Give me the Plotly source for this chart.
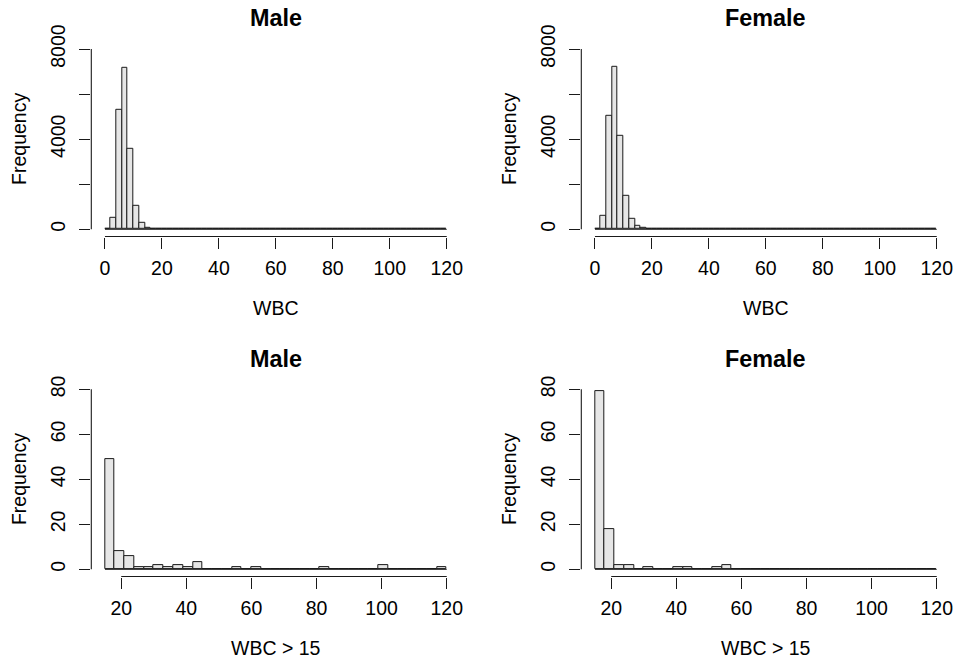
import plotly.graph_objects as go

# ---------------- data ----------------
top_edges = list(range(0, 122, 2))          # WBC bins (width 2)
male_all = [0, 530, 5290, 7160, 3590, 1060, 310, 80, 32, 12,
            7, 4, 1, 1, 1, 2, 1, 1, 2, 1,
            1, 3, 0, 0, 0, 0, 0, 1, 0, 0,
            1, 0, 0, 0, 0, 0, 0, 0, 0, 0,
            0, 1, 0, 0, 0, 0, 0, 0, 0, 0,
            2, 0, 0, 0, 0, 0, 0, 0, 0, 1]
female_all = [0, 580, 5040, 7210, 4140, 1480, 470, 135, 45, 14,
              4, 2, 2, 0, 0, 1, 0, 0, 0, 0,
              1, 1, 0, 0, 0, 0, 1, 2, 0, 0,
              0, 0, 0, 0, 0, 0, 0, 0, 0, 0,
              0, 0, 0, 0, 0, 0, 0, 0, 0, 0,
              0, 0, 0, 0, 0, 0, 0, 0, 0, 0]

low_edges = list(range(15, 123, 3))         # WBC > 15 bins (width 3)
male_gt15 = [49, 8, 6, 1, 1, 2, 1, 2, 1, 3,
             0, 0, 0, 1, 0, 1, 0, 0, 0, 0,
             0, 0, 1, 0, 0, 0, 0, 0, 2, 0,
             0, 0, 0, 0, 1]
female_gt15 = [79, 18, 2, 2, 0, 1, 0, 0, 1, 1,
               0, 0, 1, 2, 0, 0, 0, 0, 0, 0,
               0, 0, 0, 0, 0, 0, 0, 0, 0, 0,
               0, 0, 0, 0, 0]

x_ticks_top = [0, 20, 40, 60, 80, 100, 120]
y_ticks_top = [0, 2000, 4000, 6000, 8000]
y_text_top = ["0", "", "4000", "", "8000"]
x_ticks_low = [20, 40, 60, 80, 100, 120]
y_ticks_low = [0, 20, 40, 60, 80]

panels = [
    dict(title="Male", xlab="WBC", edges=top_edges, counts=male_all,
         xt=x_ticks_top, yt=y_ticks_top, ytt=y_text_top, col=0, row=0),
    dict(title="Female", xlab="WBC", edges=top_edges, counts=female_all,
         xt=x_ticks_top, yt=y_ticks_top, ytt=y_text_top, col=1, row=0),
    dict(title="Male", xlab="WBC > 15", edges=low_edges, counts=male_gt15,
         xt=x_ticks_low, yt=y_ticks_low, ytt=[str(v) for v in y_ticks_low], col=0, row=1),
    dict(title="Female", xlab="WBC > 15", edges=low_edges, counts=female_gt15,
         xt=x_ticks_low, yt=y_ticks_low, ytt=[str(v) for v in y_ticks_low], col=1, row=1),
]

# ---------------- layout geometry (pixels) ----------------
W, H = 958, 667
col_px = [(91.3, 460.4), (581.3, 950.4)]
row_px = [(41.8, 236.5), (382.1, 576.5)]

FONT = "Liberation Sans, Arial, Helvetica, sans-serif"
FS = 19.5
INK = "#1a1a1a"

def px_x(v):
    return v / W

def px_y(v):
    return 1 - v / H

fig = go.Figure()
annotations = []
shapes = []
layout = {}

for i, p in enumerate(panels):
    n = i + 1
    xa = "x" if n == 1 else f"x{n}"
    ya = "y" if n == 1 else f"y{n}"
    xkey = "xaxis" if n == 1 else f"xaxis{n}"
    ykey = "yaxis" if n == 1 else f"yaxis{n}"
    edges = p["edges"]
    centers = [(edges[k] + edges[k + 1]) / 2 for k in range(len(p["counts"]))]
    widths = [edges[k + 1] - edges[k] for k in range(len(p["counts"]))]

    fig.add_trace(go.Bar(
        x=centers, y=p["counts"], width=widths,
        marker=dict(color="#E6E6E6", line=dict(color=INK, width=1)),
        xaxis=xa, yaxis=ya, showlegend=False, hoverinfo="x+y",
    ))

    x0, x1 = edges[0], edges[-1]
    ymax = p["yt"][-1]
    xpad = 0.04 * (x1 - x0)
    ypad = 0.04 * ymax
    c0, c1 = col_px[p["col"]]
    r0, r1 = row_px[p["row"]]

    layout[xkey] = dict(
        domain=[px_x(c0), px_x(c1)], range=[x0 - xpad, x1 + xpad],
        anchor=ya, showgrid=False, zeroline=False, showline=False,
        ticks="outside", ticklen=11.5, tickwidth=1.1, tickcolor=INK,
        tickvals=p["xt"], ticktext=[str(v) for v in p["xt"]],
        tickfont=dict(family=FONT, size=FS, color="#000"),
        ticklabelstandoff=3, fixedrange=True, automargin=False,
    )
    layout[ykey] = dict(
        domain=[px_y(r1), px_y(r0)], range=[-ypad, ymax + ypad],
        anchor=xa, showgrid=False, zeroline=False, showline=False,
        ticks="outside", ticklen=11.5, tickwidth=1.1, tickcolor=INK,
        tickvals=p["yt"], ticktext=p["ytt"], tickangle=-90,
        tickfont=dict(family=FONT, size=FS, color="#000"),
        ticklabelstandoff=6, fixedrange=True, automargin=False,
    )

    # R-style axis lines spanning first to last tick
    shapes.append(dict(type="line", xref=xa, yref=f"{ya} domain",
                       x0=p["xt"][0], x1=p["xt"][-1], y0=0, y1=0,
                       line=dict(color=INK, width=1.1)))
    shapes.append(dict(type="line", xref=f"{xa} domain", yref=ya,
                       x0=0, x1=0, y0=p["yt"][0], y1=p["yt"][-1],
                       line=dict(color=INK, width=1.1)))
    # baseline drawn by empty bins
    shapes.append(dict(type="line", xref=xa, yref=ya,
                       x0=x0, x1=x1, y0=0, y1=0,
                       line=dict(color=INK, width=1)))

    xc = (c0 + c1) / 2
    yc = (r0 + r1) / 2
    annotations.append(dict(text=f"<b>{p['title']}</b>", xref="paper", yref="paper",
                            x=px_x(xc), y=px_y(r0 - 23.5), xanchor="center", yanchor="middle",
                            showarrow=False, font=dict(family=FONT, size=FS * 1.2, color="#000")))
    annotations.append(dict(text=p["xlab"], xref="paper", yref="paper",
                            x=px_x(xc), y=px_y(r1 + 71.5), xanchor="center", yanchor="middle",
                            showarrow=False, font=dict(family=FONT, size=FS, color="#000")))
    annotations.append(dict(text="Frequency", xref="paper", yref="paper",
                            x=px_x(c0 - 72.5), y=px_y(yc), xanchor="center", yanchor="middle",
                            textangle=-90, showarrow=False,
                            font=dict(family=FONT, size=FS, color="#000")))

fig.update_layout(
    width=W, height=H, margin=dict(l=0, r=0, t=0, b=0, autoexpand=False),
    paper_bgcolor="white", plot_bgcolor="white",
    bargap=0, annotations=annotations, shapes=shapes,
    font=dict(family=FONT, size=FS, color="#000"),
    **layout,
)

fig.write_html(
    "out.html",
    config={"displayModeBar": False},
    post_script="document.body.style.margin='0px';document.body.style.overflow='hidden';",
)
